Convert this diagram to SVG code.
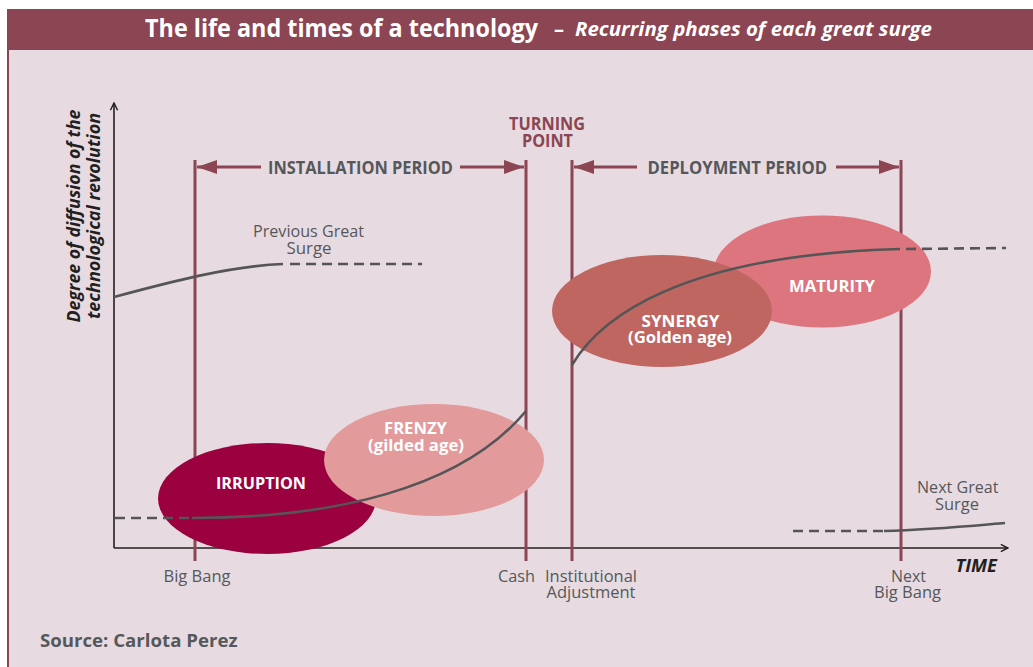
<svg xmlns="http://www.w3.org/2000/svg" width="1033" height="667" viewBox="0 0 1033 667">
<style>
text{font-family:"Open Sans","Noto Sans","Liberation Sans",sans-serif}
.lbl{font-size:16px;fill:#55585b}
.per{font-size:17px;font-weight:700;fill:#55585b}
.tp{font-size:17px;font-weight:700;fill:#8b4553}
.in{font-size:16.5px;font-weight:700;fill:#ffffff}
.vl{stroke:#8b4553;stroke-width:3;fill:none}
.curve{stroke:#555557;stroke-width:2.6;fill:none}
.dash{stroke:#555557;stroke-width:2.6;fill:none;stroke-dasharray:10 6}
.axis{stroke:#231f20;stroke-width:1.6;fill:none}
.parr{stroke:#8b4553;stroke-width:3;fill:none}
</style>
<defs>
<marker id="open" viewBox="0 0 10 10" refX="9" refY="5" markerWidth="9" markerHeight="9" markerUnits="userSpaceOnUse" orient="auto">
<path d="M1,1 L9,5 L1,9" fill="none" stroke="#231f20" stroke-width="1.6"/>
</marker>
<marker id="tri" viewBox="0 0 20 14" refX="20" refY="7" markerWidth="21" markerHeight="14" markerUnits="userSpaceOnUse" orient="auto">
<path d="M0,0 L20,7 L0,14 Z" fill="#8b4553"/>
</marker>
</defs>
<rect x="0" y="0" width="1033" height="667" fill="#ffffff"/>
<g id="frame">
<rect x="8" y="10" width="1040" height="700" fill="#e7dbe1" stroke="#8b4553" stroke-width="2"/>
<rect x="7" y="10" width="1030" height="40" fill="#8b4553"/>
<text y="37" font-weight="700" fill="#ffffff"><tspan x="145" font-size="25" textLength="393" lengthAdjust="spacingAndGlyphs">The life and times of a technology</tspan><tspan x="554" y="36" font-size="20">–</tspan><tspan x="575" y="36" font-size="19.5" font-style="italic" textLength="357" lengthAdjust="spacingAndGlyphs">Recurring phases of each great surge</tspan></text>
</g>
<g id="axes">
<line class="axis" x1="114" y1="548" x2="114" y2="103" marker-end="url(#open)"/>
<line class="axis" x1="114" y1="548" x2="1008" y2="548" marker-end="url(#open)"/>
<text transform="translate(80,216) rotate(-90)" font-size="17" font-weight="700" font-style="italic" fill="#231f20" text-anchor="middle"><tspan x="0" y="0" textLength="213" lengthAdjust="spacingAndGlyphs">Degree of diffusion of the</tspan><tspan x="0" y="20" textLength="206" lengthAdjust="spacingAndGlyphs">technological revolution</tspan></text>
<text x="955.5" y="572" font-size="17" font-weight="700" font-style="italic" fill="#231f20" textLength="41.5" lengthAdjust="spacingAndGlyphs">TIME</text>
</g>
<g id="markers">
<line class="vl" x1="195" y1="160" x2="195" y2="561"/>
<line class="vl" x1="526" y1="160" x2="526" y2="561"/>
<line class="vl" x1="572" y1="160" x2="572" y2="561"/>
<line class="vl" x1="901" y1="160" x2="901" y2="561"/>
<text class="lbl" x="197" y="582" text-anchor="middle" textLength="67" lengthAdjust="spacingAndGlyphs">Big Bang</text>
<text class="lbl" x="516.5" y="582" text-anchor="middle" textLength="37" lengthAdjust="spacingAndGlyphs">Cash</text>
<text class="lbl" text-anchor="middle"><tspan x="591" y="582" textLength="92" lengthAdjust="spacingAndGlyphs">Institutional</tspan><tspan x="591" y="598" textLength="89" lengthAdjust="spacingAndGlyphs">Adjustment</tspan></text>
<text class="lbl" text-anchor="middle"><tspan x="908.5" y="582" textLength="35" lengthAdjust="spacingAndGlyphs">Next</tspan><tspan x="907.5" y="598" textLength="67" lengthAdjust="spacingAndGlyphs">Big Bang</tspan></text>
<text class="tp" text-anchor="middle"><tspan x="547" y="130" textLength="76" lengthAdjust="spacingAndGlyphs">TURNING</tspan><tspan x="547.5" y="147" textLength="51" lengthAdjust="spacingAndGlyphs">POINT</tspan></text>
</g>
<g id="irruption">
<ellipse cx="267" cy="498.5" rx="109" ry="55.5" fill="#9b003f"/>
<text class="in" x="261" y="489" text-anchor="middle" textLength="90" lengthAdjust="spacingAndGlyphs">IRRUPTION</text>
</g>
<g id="frenzy">
<ellipse cx="434" cy="460" rx="110" ry="56" fill="#e29a9b"/>
<text class="in" text-anchor="middle"><tspan x="415.5" y="434" textLength="63" lengthAdjust="spacingAndGlyphs">FRENZY</tspan><tspan x="416" y="451" textLength="96" lengthAdjust="spacingAndGlyphs">(gilded age)</tspan></text>
</g>
<g id="maturity">
<ellipse cx="822.5" cy="271.5" rx="108.5" ry="56" fill="#dc757e"/>
<text class="in" x="832" y="292" text-anchor="middle" textLength="86" lengthAdjust="spacingAndGlyphs">MATURITY</text>
</g>
<g id="synergy">
<ellipse cx="662" cy="311" rx="110" ry="56" fill="#bf6661"/>
<text class="in" text-anchor="middle"><tspan x="680.5" y="327" textLength="78" lengthAdjust="spacingAndGlyphs">SYNERGY</tspan><tspan x="680" y="343" textLength="104" lengthAdjust="spacingAndGlyphs">(Golden age)</tspan></text>
</g>
<g id="connectors">
<line class="parr" x1="261" y1="167" x2="197" y2="167" marker-end="url(#tri)"/>
<line class="parr" x1="460" y1="167" x2="524" y2="167" marker-end="url(#tri)"/>
<line class="parr" x1="637" y1="167" x2="574" y2="167" marker-end="url(#tri)"/>
<line class="parr" x1="836" y1="167" x2="899" y2="167" marker-end="url(#tri)"/>
<text class="per" x="268" y="174" textLength="185" lengthAdjust="spacingAndGlyphs">INSTALLATION PERIOD</text>
<text class="per" x="647.5" y="174" textLength="179.5" lengthAdjust="spacingAndGlyphs">DEPLOYMENT PERIOD</text>
<path class="curve" d="M114,297 C170,282 230,266 283,264"/>
<path class="dash" d="M290,264 L422,264"/>
<text class="lbl"><tspan x="253" y="237" textLength="111" lengthAdjust="spacingAndGlyphs">Previous Great</tspan><tspan x="309" y="254" text-anchor="middle" textLength="45" lengthAdjust="spacingAndGlyphs">Surge</tspan></text>
<path class="dash" d="M115,518 L192,518"/>
<path class="curve" d="M192,518 C330,518 460,490 526,411"/>
<path class="curve" d="M572,365 C600,318 680,255 900,249"/>
<path class="dash" d="M906,249 L1006,248"/>
<path class="dash" d="M793,531 L884,531"/>
<path class="curve" d="M884,531 C930,530 970,526 1005,523"/>
<text class="lbl"><tspan x="917" y="493" textLength="81.5" lengthAdjust="spacingAndGlyphs">Next Great</tspan><tspan x="957" y="510" text-anchor="middle" textLength="44" lengthAdjust="spacingAndGlyphs">Surge</tspan></text>
</g>
<text x="40" y="647" font-size="18.5" font-weight="700" fill="#55585b" textLength="197.5" lengthAdjust="spacingAndGlyphs">Source: Carlota Perez</text>
</svg>
